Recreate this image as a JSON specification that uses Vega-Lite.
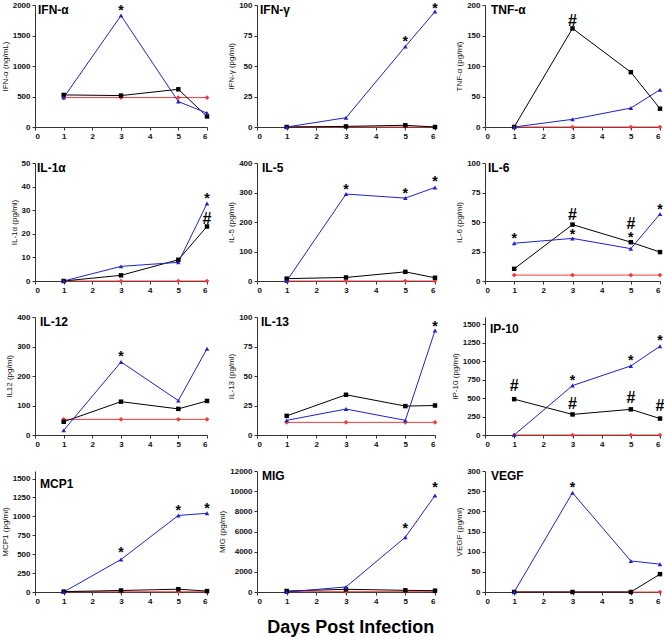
{
  "$schema": "https://vega.github.io/schema/vega-lite/v6.json",
  "padding": {"left": 1, "top": 1, "right": 0, "bottom": 0},
  "datasets": {
    "d": [
      {"c":"IFN-α","s":"C","d":1,"v":482},{"c":"IFN-α","s":"C","d":3,"v":482},{"c":"IFN-α","s":"C","d":5,"v":482},{"c":"IFN-α","s":"C","d":6,"v":482},
      {"c":"IFN-α","s":"A","d":1,"v":526},{"c":"IFN-α","s":"A","d":3,"v":515},{"c":"IFN-α","s":"A","d":5,"v":618},{"c":"IFN-α","s":"A","d":6,"v":173},
      {"c":"IFN-α","s":"B","d":1,"v":482},{"c":"IFN-α","s":"B","d":3,"v":1827},{"c":"IFN-α","s":"B","d":5,"v":417},{"c":"IFN-α","s":"B","d":6,"v":228},
      {"c":"IFN-γ","s":"C","d":1,"v":0},{"c":"IFN-γ","s":"C","d":3,"v":0},{"c":"IFN-γ","s":"C","d":5,"v":0},{"c":"IFN-γ","s":"C","d":6,"v":0},
      {"c":"IFN-γ","s":"A","d":1,"v":0},{"c":"IFN-γ","s":"A","d":3,"v":0.5},{"c":"IFN-γ","s":"A","d":5,"v":1.4},{"c":"IFN-γ","s":"A","d":6,"v":0},
      {"c":"IFN-γ","s":"B","d":1,"v":0},{"c":"IFN-γ","s":"B","d":3,"v":7.6},{"c":"IFN-γ","s":"B","d":5,"v":66},{"c":"IFN-γ","s":"B","d":6,"v":94.6},
      {"c":"TNF-α","s":"C","d":1,"v":0},{"c":"TNF-α","s":"C","d":3,"v":0},{"c":"TNF-α","s":"C","d":5,"v":0},{"c":"TNF-α","s":"C","d":6,"v":0},
      {"c":"TNF-α","s":"A","d":1,"v":0},{"c":"TNF-α","s":"A","d":3,"v":161.6},{"c":"TNF-α","s":"A","d":5,"v":89.9},{"c":"TNF-α","s":"A","d":6,"v":30},
      {"c":"TNF-α","s":"B","d":1,"v":0},{"c":"TNF-α","s":"B","d":3,"v":12.6},{"c":"TNF-α","s":"B","d":5,"v":31},{"c":"TNF-α","s":"B","d":6,"v":61},
      {"c":"IL-1α","s":"C","d":1,"v":0},{"c":"IL-1α","s":"C","d":3,"v":0},{"c":"IL-1α","s":"C","d":5,"v":0},{"c":"IL-1α","s":"C","d":6,"v":0},
      {"c":"IL-1α","s":"A","d":1,"v":0},{"c":"IL-1α","s":"A","d":3,"v":2.4},{"c":"IL-1α","s":"A","d":5,"v":9},{"c":"IL-1α","s":"A","d":6,"v":23.1},
      {"c":"IL-1α","s":"B","d":1,"v":0},{"c":"IL-1α","s":"B","d":3,"v":6.2},{"c":"IL-1α","s":"B","d":5,"v":7.9},{"c":"IL-1α","s":"B","d":6,"v":32.8},
      {"c":"IL-5","s":"C","d":1,"v":0},{"c":"IL-5","s":"C","d":3,"v":0},{"c":"IL-5","s":"C","d":5,"v":0},{"c":"IL-5","s":"C","d":6,"v":0},
      {"c":"IL-5","s":"A","d":1,"v":8},{"c":"IL-5","s":"A","d":3,"v":12},{"c":"IL-5","s":"A","d":5,"v":31},{"c":"IL-5","s":"A","d":6,"v":11},
      {"c":"IL-5","s":"B","d":1,"v":0},{"c":"IL-5","s":"B","d":3,"v":294.7},{"c":"IL-5","s":"B","d":5,"v":281},{"c":"IL-5","s":"B","d":6,"v":317},
      {"c":"IL-6","s":"C","d":1,"v":5},{"c":"IL-6","s":"C","d":3,"v":5},{"c":"IL-6","s":"C","d":5,"v":5},{"c":"IL-6","s":"C","d":6,"v":5},
      {"c":"IL-6","s":"A","d":1,"v":10.3},{"c":"IL-6","s":"A","d":3,"v":47.8},{"c":"IL-6","s":"A","d":5,"v":32.9},{"c":"IL-6","s":"A","d":6,"v":24.5},
      {"c":"IL-6","s":"B","d":1,"v":32},{"c":"IL-6","s":"B","d":3,"v":36.1},{"c":"IL-6","s":"B","d":5,"v":27.4},{"c":"IL-6","s":"B","d":6,"v":56.8},
      {"c":"IL-12","s":"C","d":1,"v":53},{"c":"IL-12","s":"C","d":3,"v":53},{"c":"IL-12","s":"C","d":5,"v":53},{"c":"IL-12","s":"C","d":6,"v":53},
      {"c":"IL-12","s":"A","d":1,"v":44.8},{"c":"IL-12","s":"A","d":3,"v":113},{"c":"IL-12","s":"A","d":5,"v":88.5},{"c":"IL-12","s":"A","d":6,"v":115.4},
      {"c":"IL-12","s":"B","d":1,"v":15.7},{"c":"IL-12","s":"B","d":3,"v":247.6},{"c":"IL-12","s":"B","d":5,"v":116.5},{"c":"IL-12","s":"B","d":6,"v":292.4},
      {"c":"IL-13","s":"C","d":1,"v":10.7},{"c":"IL-13","s":"C","d":3,"v":10.7},{"c":"IL-13","s":"C","d":5,"v":10.7},{"c":"IL-13","s":"C","d":6,"v":10.7},
      {"c":"IL-13","s":"A","d":1,"v":16.2},{"c":"IL-13","s":"A","d":3,"v":34.1},{"c":"IL-13","s":"A","d":5,"v":24.5},{"c":"IL-13","s":"A","d":6,"v":25},
      {"c":"IL-13","s":"B","d":1,"v":12.4},{"c":"IL-13","s":"B","d":3,"v":22},{"c":"IL-13","s":"B","d":5,"v":12.4},{"c":"IL-13","s":"B","d":6,"v":88.5},
      {"c":"IP-10","s":"C","d":1,"v":0},{"c":"IP-10","s":"C","d":3,"v":0},{"c":"IP-10","s":"C","d":5,"v":0},{"c":"IP-10","s":"C","d":6,"v":0},
      {"c":"IP-10","s":"A","d":1,"v":486},{"c":"IP-10","s":"A","d":3,"v":279},{"c":"IP-10","s":"A","d":5,"v":348},{"c":"IP-10","s":"A","d":6,"v":223},
      {"c":"IP-10","s":"B","d":1,"v":0},{"c":"IP-10","s":"B","d":3,"v":670},{"c":"IP-10","s":"B","d":5,"v":937},{"c":"IP-10","s":"B","d":6,"v":1203},
      {"c":"MCP1","s":"C","d":1,"v":3},{"c":"MCP1","s":"C","d":3,"v":3},{"c":"MCP1","s":"C","d":5,"v":3},{"c":"MCP1","s":"C","d":6,"v":3},
      {"c":"MCP1","s":"A","d":1,"v":5},{"c":"MCP1","s":"A","d":3,"v":20},{"c":"MCP1","s":"A","d":5,"v":37},{"c":"MCP1","s":"A","d":6,"v":12},
      {"c":"MCP1","s":"B","d":1,"v":0},{"c":"MCP1","s":"B","d":3,"v":430},{"c":"MCP1","s":"B","d":5,"v":1012},{"c":"MCP1","s":"B","d":6,"v":1041},
      {"c":"MIG","s":"C","d":1,"v":30},{"c":"MIG","s":"C","d":3,"v":30},{"c":"MIG","s":"C","d":5,"v":30},{"c":"MIG","s":"C","d":6,"v":30},
      {"c":"MIG","s":"A","d":1,"v":100},{"c":"MIG","s":"A","d":3,"v":267},{"c":"MIG","s":"A","d":5,"v":167},{"c":"MIG","s":"A","d":6,"v":133},
      {"c":"MIG","s":"B","d":1,"v":0},{"c":"MIG","s":"B","d":3,"v":500},{"c":"MIG","s":"B","d":5,"v":5433},{"c":"MIG","s":"B","d":6,"v":9567},
      {"c":"VEGF","s":"C","d":1,"v":0},{"c":"VEGF","s":"C","d":3,"v":0},{"c":"VEGF","s":"C","d":5,"v":0},{"c":"VEGF","s":"C","d":6,"v":0},
      {"c":"VEGF","s":"A","d":1,"v":0},{"c":"VEGF","s":"A","d":3,"v":0},{"c":"VEGF","s":"A","d":5,"v":0},{"c":"VEGF","s":"A","d":6,"v":44.3},
      {"c":"VEGF","s":"B","d":1,"v":0},{"c":"VEGF","s":"B","d":3,"v":246},{"c":"VEGF","s":"B","d":5,"v":77},{"c":"VEGF","s":"B","d":6,"v":69}
    ],
    "a": [
      {"c":"IFN-α","t":"*","d":3,"v":1962},
      {"c":"IFN-γ","t":"*","d":5,"v":73},{"c":"IFN-γ","t":"*","d":6,"v":100},
      {"c":"TNF-α","t":"#","d":3,"v":175},
      {"c":"IL-1α","t":"*","d":6,"v":36.4},{"c":"IL-1α","t":"#","d":6,"v":26.7},
      {"c":"IL-5","t":"*","d":3,"v":321.6},{"c":"IL-5","t":"*","d":5,"v":308},{"c":"IL-5","t":"*","d":6,"v":348},
      {"c":"IL-6","t":"*","d":1,"v":38.9},{"c":"IL-6","t":"#","d":3,"v":56.5},{"c":"IL-6","t":"*","d":3,"v":42.4},{"c":"IL-6","t":"#","d":5,"v":49},{"c":"IL-6","t":"*","d":5,"v":39.5},{"c":"IL-6","t":"*","d":6,"v":63.3},
      {"c":"IL-12","t":"*","d":3,"v":279},
      {"c":"IL-13","t":"*","d":6,"v":95.3},
      {"c":"IP-10","t":"#","d":1,"v":675},{"c":"IP-10","t":"#","d":3,"v":430},{"c":"IP-10","t":"#","d":5,"v":516},{"c":"IP-10","t":"#","d":6,"v":413},{"c":"IP-10","t":"*","d":3,"v":782},{"c":"IP-10","t":"*","d":5,"v":1061},{"c":"IP-10","t":"*","d":6,"v":1332},
      {"c":"MCP1","t":"*","d":3,"v":570},{"c":"MCP1","t":"*","d":5,"v":1120},{"c":"MCP1","t":"*","d":6,"v":1149},
      {"c":"MIG","t":"*","d":5,"v":6667},{"c":"MIG","t":"*","d":6,"v":10667},
      {"c":"VEGF","t":"*","d":3,"v":267}
    ]
  },
  "title": {"text": "Days Post Infection", "orient": "bottom", "anchor": "middle", "frame": "bounds", "fontSize": 18, "fontWeight": "bold", "offset": 14, "dx": 18},
  "columns": 3,
  "bounds": "flush",
  "spacing": {"row": 36, "column": 50},
  "concat": [
    {"width":172,"height":122,"layer":[
      {"encoding":{"x":{"field":"d","type":"quantitative","scale":{"domain":[0,6]},"axis":{"values":[0,1,2,3,4,5,6],"title":null}},
        "y":{"field":"v","type":"quantitative","scale":{"domain":[0,2000]},"axis":{"values":[0,500,1000,1500,2000],"title":"IFN-α (ng/mL)"}}},
       "layer":[
        {"data":{"name":"d"},"transform":[{"filter":{"field":"c","equal":"IFN-α"}}],"mark":{"type":"line"},"encoding":{"color":{"field":"s","type":"nominal","scale":{"domain":["A","B","C"]}},"strokeWidth":{"field":"s","type":"ordinal","scale":{"domain":["A","B","C"],"range":[1,1,1.8]}}}},
        {"data":{"name":"d"},"transform":[{"filter":{"field":"c","equal":"IFN-α"}}],"mark":{"type":"point","filled":true,"opacity":1},"encoding":{"color":{"field":"s","type":"nominal"},"shape":{"field":"s","type":"nominal","scale":{"domain":["A","B","C"]}},"size":{"field":"s","type":"ordinal","scale":{"domain":["A","B","C"],"range":[20,22,10]}}}},
        {"data":{"name":"a"},"transform":[{"filter":"datum.c === 'IFN-α' && datum.t === '*'"}],"mark":{"type":"text","fontSize":14,"fontWeight":"bold","baseline":"alphabetic","dy":8},"encoding":{"text":{"field":"t"}}},
        {"data":{"name":"a"},"transform":[{"filter":"datum.c === 'IFN-α' && datum.t === '#'"}],"mark":{"type":"text","fontSize":16,"fontWeight":"bold","baseline":"alphabetic","dy":6},"encoding":{"text":{"field":"t"}}}
       ]},
      {"data":{"values":[{"n":"IFN-α"}]},"mark":{"type":"text","fontSize":12,"fontWeight":"bold","align":"left","baseline":"top","dx":3},"encoding":{"x":{"datum":0,"type":"quantitative","axis":{"values":[0,1,2,3,4,5,6],"title":null}},"y":{"datum":2000,"type":"quantitative","axis":{"values":[0,500,1000,1500,2000],"title":"IFN-α (ng/mL)"}},"text":{"field":"n"}}}
    ]},
    {"width":178,"height":122,"layer":[
      {"encoding":{"x":{"field":"d","type":"quantitative","scale":{"domain":[0,6]},"axis":{"values":[0,1,2,3,4,5,6],"title":null}},
        "y":{"field":"v","type":"quantitative","scale":{"domain":[0,100]},"axis":{"values":[0,25,50,75,100],"title":"IFN-γ (pg/ml)"}}},
       "layer":[
        {"data":{"name":"d"},"transform":[{"filter":{"field":"c","equal":"IFN-γ"}}],"mark":{"type":"line"},"encoding":{"color":{"field":"s","type":"nominal","scale":{"domain":["A","B","C"]}},"strokeWidth":{"field":"s","type":"ordinal","scale":{"domain":["A","B","C"],"range":[1,1,1.8]}}}},
        {"data":{"name":"d"},"transform":[{"filter":{"field":"c","equal":"IFN-γ"}}],"mark":{"type":"point","filled":true,"opacity":1},"encoding":{"color":{"field":"s","type":"nominal"},"shape":{"field":"s","type":"nominal","scale":{"domain":["A","B","C"]}},"size":{"field":"s","type":"ordinal","scale":{"domain":["A","B","C"],"range":[20,22,10]}}}},
        {"data":{"name":"a"},"transform":[{"filter":"datum.c === 'IFN-γ' && datum.t === '*'"}],"mark":{"type":"text","fontSize":14,"fontWeight":"bold","baseline":"alphabetic","dy":8},"encoding":{"text":{"field":"t"}}},
        {"data":{"name":"a"},"transform":[{"filter":"datum.c === 'IFN-γ' && datum.t === '#'"}],"mark":{"type":"text","fontSize":16,"fontWeight":"bold","baseline":"alphabetic","dy":6},"encoding":{"text":{"field":"t"}}}
       ]},
      {"data":{"values":[{"n":"IFN-γ"}]},"mark":{"type":"text","fontSize":12,"fontWeight":"bold","align":"left","baseline":"top","dx":3},"encoding":{"x":{"datum":0,"type":"quantitative","axis":{"values":[0,1,2,3,4,5,6],"title":null}},"y":{"datum":100,"type":"quantitative","axis":{"values":[0,25,50,75,100],"title":"IFN-γ (pg/ml)"}},"text":{"field":"n"}}}
    ]},
    {"width":175,"height":122,"layer":[
      {"encoding":{"x":{"field":"d","type":"quantitative","scale":{"domain":[0,6]},"axis":{"values":[0,1,2,3,4,5,6],"title":null}},
        "y":{"field":"v","type":"quantitative","scale":{"domain":[0,200]},"axis":{"values":[0,50,100,150,200],"title":"TNF-α (pg/ml)"}}},
       "layer":[
        {"data":{"name":"d"},"transform":[{"filter":{"field":"c","equal":"TNF-α"}}],"mark":{"type":"line"},"encoding":{"color":{"field":"s","type":"nominal","scale":{"domain":["A","B","C"]}},"strokeWidth":{"field":"s","type":"ordinal","scale":{"domain":["A","B","C"],"range":[1,1,1.8]}}}},
        {"data":{"name":"d"},"transform":[{"filter":{"field":"c","equal":"TNF-α"}}],"mark":{"type":"point","filled":true,"opacity":1},"encoding":{"color":{"field":"s","type":"nominal"},"shape":{"field":"s","type":"nominal","scale":{"domain":["A","B","C"]}},"size":{"field":"s","type":"ordinal","scale":{"domain":["A","B","C"],"range":[20,22,10]}}}},
        {"data":{"name":"a"},"transform":[{"filter":"datum.c === 'TNF-α' && datum.t === '*'"}],"mark":{"type":"text","fontSize":14,"fontWeight":"bold","baseline":"alphabetic","dy":8},"encoding":{"text":{"field":"t"}}},
        {"data":{"name":"a"},"transform":[{"filter":"datum.c === 'TNF-α' && datum.t === '#'"}],"mark":{"type":"text","fontSize":16,"fontWeight":"bold","baseline":"alphabetic","dy":6},"encoding":{"text":{"field":"t"}}}
       ]},
      {"data":{"values":[{"n":"TNF-α"}]},"mark":{"type":"text","fontSize":12,"fontWeight":"bold","align":"left","baseline":"top","dx":6},"encoding":{"x":{"datum":0,"type":"quantitative","axis":{"values":[0,1,2,3,4,5,6],"title":null}},"y":{"datum":200,"type":"quantitative","axis":{"values":[0,50,100,150,200],"title":"TNF-α (pg/ml)"}},"text":{"field":"n"}}}
    ]},
    {"width":172,"height":118,"layer":[
      {"encoding":{"x":{"field":"d","type":"quantitative","scale":{"domain":[0,6]},"axis":{"values":[0,1,2,3,4,5,6],"title":null}},
        "y":{"field":"v","type":"quantitative","scale":{"domain":[0,50]},"axis":{"values":[0,10,20,30,40,50],"title":"IL-1α (pg/ml)"}}},
       "layer":[
        {"data":{"name":"d"},"transform":[{"filter":{"field":"c","equal":"IL-1α"}}],"mark":{"type":"line"},"encoding":{"color":{"field":"s","type":"nominal","scale":{"domain":["A","B","C"]}},"strokeWidth":{"field":"s","type":"ordinal","scale":{"domain":["A","B","C"],"range":[1,1,1.8]}}}},
        {"data":{"name":"d"},"transform":[{"filter":{"field":"c","equal":"IL-1α"}}],"mark":{"type":"point","filled":true,"opacity":1},"encoding":{"color":{"field":"s","type":"nominal"},"shape":{"field":"s","type":"nominal","scale":{"domain":["A","B","C"]}},"size":{"field":"s","type":"ordinal","scale":{"domain":["A","B","C"],"range":[20,22,10]}}}},
        {"data":{"name":"a"},"transform":[{"filter":"datum.c === 'IL-1α' && datum.t === '*'"}],"mark":{"type":"text","fontSize":14,"fontWeight":"bold","baseline":"alphabetic","dy":8},"encoding":{"text":{"field":"t"}}},
        {"data":{"name":"a"},"transform":[{"filter":"datum.c === 'IL-1α' && datum.t === '#'"}],"mark":{"type":"text","fontSize":16,"fontWeight":"bold","baseline":"alphabetic","dy":6},"encoding":{"text":{"field":"t"}}}
       ]},
      {"data":{"values":[{"n":"IL-1α"}]},"mark":{"type":"text","fontSize":12,"fontWeight":"bold","align":"left","baseline":"top","dx":2},"encoding":{"x":{"datum":0,"type":"quantitative","axis":{"values":[0,1,2,3,4,5,6],"title":null}},"y":{"datum":50,"type":"quantitative","axis":{"values":[0,10,20,30,40,50],"title":"IL-1α (pg/ml)"}},"text":{"field":"n"}}}
    ]},
    {"width":178,"height":118,"layer":[
      {"encoding":{"x":{"field":"d","type":"quantitative","scale":{"domain":[0,6]},"axis":{"values":[0,1,2,3,4,5,6],"title":null}},
        "y":{"field":"v","type":"quantitative","scale":{"domain":[0,400]},"axis":{"values":[0,100,200,300,400],"title":"IL-5 (pg/ml)"}}},
       "layer":[
        {"data":{"name":"d"},"transform":[{"filter":{"field":"c","equal":"IL-5"}}],"mark":{"type":"line"},"encoding":{"color":{"field":"s","type":"nominal","scale":{"domain":["A","B","C"]}},"strokeWidth":{"field":"s","type":"ordinal","scale":{"domain":["A","B","C"],"range":[1,1,1.8]}}}},
        {"data":{"name":"d"},"transform":[{"filter":{"field":"c","equal":"IL-5"}}],"mark":{"type":"point","filled":true,"opacity":1},"encoding":{"color":{"field":"s","type":"nominal"},"shape":{"field":"s","type":"nominal","scale":{"domain":["A","B","C"]}},"size":{"field":"s","type":"ordinal","scale":{"domain":["A","B","C"],"range":[20,22,10]}}}},
        {"data":{"name":"a"},"transform":[{"filter":"datum.c === 'IL-5' && datum.t === '*'"}],"mark":{"type":"text","fontSize":14,"fontWeight":"bold","baseline":"alphabetic","dy":8},"encoding":{"text":{"field":"t"}}},
        {"data":{"name":"a"},"transform":[{"filter":"datum.c === 'IL-5' && datum.t === '#'"}],"mark":{"type":"text","fontSize":16,"fontWeight":"bold","baseline":"alphabetic","dy":6},"encoding":{"text":{"field":"t"}}}
       ]},
      {"data":{"values":[{"n":"IL-5"}]},"mark":{"type":"text","fontSize":12,"fontWeight":"bold","align":"left","baseline":"top","dx":5},"encoding":{"x":{"datum":0,"type":"quantitative","axis":{"values":[0,1,2,3,4,5,6],"title":null}},"y":{"datum":400,"type":"quantitative","axis":{"values":[0,100,200,300,400],"title":"IL-5 (pg/ml)"}},"text":{"field":"n"}}}
    ]},
    {"width":175,"height":118,"layer":[
      {"encoding":{"x":{"field":"d","type":"quantitative","scale":{"domain":[0,6]},"axis":{"values":[0,1,2,3,4,5,6],"title":null}},
        "y":{"field":"v","type":"quantitative","scale":{"domain":[0,100]},"axis":{"values":[0,25,50,75,100],"title":"IL-6 (pg/ml)"}}},
       "layer":[
        {"data":{"name":"d"},"transform":[{"filter":{"field":"c","equal":"IL-6"}}],"mark":{"type":"line"},"encoding":{"color":{"field":"s","type":"nominal","scale":{"domain":["A","B","C"]}},"strokeWidth":{"field":"s","type":"ordinal","scale":{"domain":["A","B","C"],"range":[1,1,1.8]}}}},
        {"data":{"name":"d"},"transform":[{"filter":{"field":"c","equal":"IL-6"}}],"mark":{"type":"point","filled":true,"opacity":1},"encoding":{"color":{"field":"s","type":"nominal"},"shape":{"field":"s","type":"nominal","scale":{"domain":["A","B","C"]}},"size":{"field":"s","type":"ordinal","scale":{"domain":["A","B","C"],"range":[20,22,10]}}}},
        {"data":{"name":"a"},"transform":[{"filter":"datum.c === 'IL-6' && datum.t === '*'"}],"mark":{"type":"text","fontSize":14,"fontWeight":"bold","baseline":"alphabetic","dy":8},"encoding":{"text":{"field":"t"}}},
        {"data":{"name":"a"},"transform":[{"filter":"datum.c === 'IL-6' && datum.t === '#'"}],"mark":{"type":"text","fontSize":16,"fontWeight":"bold","baseline":"alphabetic","dy":6},"encoding":{"text":{"field":"t"}}}
       ]},
      {"data":{"values":[{"n":"IL-6"}]},"mark":{"type":"text","fontSize":12,"fontWeight":"bold","align":"left","baseline":"top","dx":3},"encoding":{"x":{"datum":0,"type":"quantitative","axis":{"values":[0,1,2,3,4,5,6],"title":null}},"y":{"datum":100,"type":"quantitative","axis":{"values":[0,25,50,75,100],"title":"IL-6 (pg/ml)"}},"text":{"field":"n"}}}
    ]},
    {"width":172,"height":118,"layer":[
      {"encoding":{"x":{"field":"d","type":"quantitative","scale":{"domain":[0,6]},"axis":{"values":[0,1,2,3,4,5,6],"title":null}},
        "y":{"field":"v","type":"quantitative","scale":{"domain":[0,400]},"axis":{"values":[0,100,200,300,400],"title":"IL12 (pg/ml)"}}},
       "layer":[
        {"data":{"name":"d"},"transform":[{"filter":{"field":"c","equal":"IL-12"}}],"mark":{"type":"line"},"encoding":{"color":{"field":"s","type":"nominal","scale":{"domain":["A","B","C"]}},"strokeWidth":{"field":"s","type":"ordinal","scale":{"domain":["A","B","C"],"range":[1,1,1.8]}}}},
        {"data":{"name":"d"},"transform":[{"filter":{"field":"c","equal":"IL-12"}}],"mark":{"type":"point","filled":true,"opacity":1},"encoding":{"color":{"field":"s","type":"nominal"},"shape":{"field":"s","type":"nominal","scale":{"domain":["A","B","C"]}},"size":{"field":"s","type":"ordinal","scale":{"domain":["A","B","C"],"range":[20,22,10]}}}},
        {"data":{"name":"a"},"transform":[{"filter":"datum.c === 'IL-12' && datum.t === '*'"}],"mark":{"type":"text","fontSize":14,"fontWeight":"bold","baseline":"alphabetic","dy":8},"encoding":{"text":{"field":"t"}}},
        {"data":{"name":"a"},"transform":[{"filter":"datum.c === 'IL-12' && datum.t === '#'"}],"mark":{"type":"text","fontSize":16,"fontWeight":"bold","baseline":"alphabetic","dy":6},"encoding":{"text":{"field":"t"}}}
       ]},
      {"data":{"values":[{"n":"IL-12"}]},"mark":{"type":"text","fontSize":12,"fontWeight":"bold","align":"left","baseline":"top","dx":5},"encoding":{"x":{"datum":0,"type":"quantitative","axis":{"values":[0,1,2,3,4,5,6],"title":null}},"y":{"datum":400,"type":"quantitative","axis":{"values":[0,100,200,300,400],"title":"IL12 (pg/ml)"}},"text":{"field":"n"}}}
    ]},
    {"width":178,"height":118,"layer":[
      {"encoding":{"x":{"field":"d","type":"quantitative","scale":{"domain":[0,6]},"axis":{"values":[0,1,2,3,4,5,6],"title":null}},
        "y":{"field":"v","type":"quantitative","scale":{"domain":[0,100]},"axis":{"values":[0,25,50,75,100],"title":"IL-13 (pg/ml)"}}},
       "layer":[
        {"data":{"name":"d"},"transform":[{"filter":{"field":"c","equal":"IL-13"}}],"mark":{"type":"line"},"encoding":{"color":{"field":"s","type":"nominal","scale":{"domain":["A","B","C"]}},"strokeWidth":{"field":"s","type":"ordinal","scale":{"domain":["A","B","C"],"range":[1,1,1.8]}}}},
        {"data":{"name":"d"},"transform":[{"filter":{"field":"c","equal":"IL-13"}}],"mark":{"type":"point","filled":true,"opacity":1},"encoding":{"color":{"field":"s","type":"nominal"},"shape":{"field":"s","type":"nominal","scale":{"domain":["A","B","C"]}},"size":{"field":"s","type":"ordinal","scale":{"domain":["A","B","C"],"range":[20,22,10]}}}},
        {"data":{"name":"a"},"transform":[{"filter":"datum.c === 'IL-13' && datum.t === '*'"}],"mark":{"type":"text","fontSize":14,"fontWeight":"bold","baseline":"alphabetic","dy":8},"encoding":{"text":{"field":"t"}}},
        {"data":{"name":"a"},"transform":[{"filter":"datum.c === 'IL-13' && datum.t === '#'"}],"mark":{"type":"text","fontSize":16,"fontWeight":"bold","baseline":"alphabetic","dy":6},"encoding":{"text":{"field":"t"}}}
       ]},
      {"data":{"values":[{"n":"IL-13"}]},"mark":{"type":"text","fontSize":12,"fontWeight":"bold","align":"left","baseline":"top","dx":4},"encoding":{"x":{"datum":0,"type":"quantitative","axis":{"values":[0,1,2,3,4,5,6],"title":null}},"y":{"datum":100,"type":"quantitative","axis":{"values":[0,25,50,75,100],"title":"IL-13 (pg/ml)"}},"text":{"field":"n"}}}
    ]},
    {"width":175,"height":118,"layer":[
      {"encoding":{"x":{"field":"d","type":"quantitative","scale":{"domain":[0,6]},"axis":{"values":[0,1,2,3,4,5,6],"title":null}},
        "y":{"field":"v","type":"quantitative","scale":{"domain":[0,1500]},"axis":{"values":[0,250,500,750,1000,1250,1500],"title":"IP-10 (pg/ml)"}}},
       "layer":[
        {"data":{"name":"d"},"transform":[{"filter":{"field":"c","equal":"IP-10"}}],"mark":{"type":"line"},"encoding":{"color":{"field":"s","type":"nominal","scale":{"domain":["A","B","C"]}},"strokeWidth":{"field":"s","type":"ordinal","scale":{"domain":["A","B","C"],"range":[1,1,1.8]}}}},
        {"data":{"name":"d"},"transform":[{"filter":{"field":"c","equal":"IP-10"}}],"mark":{"type":"point","filled":true,"opacity":1},"encoding":{"color":{"field":"s","type":"nominal"},"shape":{"field":"s","type":"nominal","scale":{"domain":["A","B","C"]}},"size":{"field":"s","type":"ordinal","scale":{"domain":["A","B","C"],"range":[20,22,10]}}}},
        {"data":{"name":"a"},"transform":[{"filter":"datum.c === 'IP-10' && datum.t === '*'"}],"mark":{"type":"text","fontSize":14,"fontWeight":"bold","baseline":"alphabetic","dy":8},"encoding":{"text":{"field":"t"}}},
        {"data":{"name":"a"},"transform":[{"filter":"datum.c === 'IP-10' && datum.t === '#'"}],"mark":{"type":"text","fontSize":16,"fontWeight":"bold","baseline":"alphabetic","dy":6},"encoding":{"text":{"field":"t"}}}
       ]},
      {"data":{"values":[{"n":"IP-10"}]},"mark":{"type":"text","fontSize":12,"fontWeight":"bold","align":"left","baseline":"top","dx":5},"encoding":{"x":{"datum":0,"type":"quantitative","axis":{"values":[0,1,2,3,4,5,6],"title":null}},"y":{"datum":1500,"type":"quantitative","axis":{"values":[0,250,500,750,1000,1250,1500],"title":"IP-10 (pg/ml)"}},"text":{"field":"n"}}}
    ]},
    {"width":172,"height":121,"layer":[
      {"encoding":{"x":{"field":"d","type":"quantitative","scale":{"domain":[0,6]},"axis":{"values":[0,1,2,3,4,5,6],"title":null}},
        "y":{"field":"v","type":"quantitative","scale":{"domain":[0,1500]},"axis":{"values":[0,250,500,750,1000,1250,1500],"title":"MCP1 (pg/ml)"}}},
       "layer":[
        {"data":{"name":"d"},"transform":[{"filter":{"field":"c","equal":"MCP1"}}],"mark":{"type":"line"},"encoding":{"color":{"field":"s","type":"nominal","scale":{"domain":["A","B","C"]}},"strokeWidth":{"field":"s","type":"ordinal","scale":{"domain":["A","B","C"],"range":[1,1,1.8]}}}},
        {"data":{"name":"d"},"transform":[{"filter":{"field":"c","equal":"MCP1"}}],"mark":{"type":"point","filled":true,"opacity":1},"encoding":{"color":{"field":"s","type":"nominal"},"shape":{"field":"s","type":"nominal","scale":{"domain":["A","B","C"]}},"size":{"field":"s","type":"ordinal","scale":{"domain":["A","B","C"],"range":[20,22,10]}}}},
        {"data":{"name":"a"},"transform":[{"filter":"datum.c === 'MCP1' && datum.t === '*'"}],"mark":{"type":"text","fontSize":14,"fontWeight":"bold","baseline":"alphabetic","dy":8},"encoding":{"text":{"field":"t"}}},
        {"data":{"name":"a"},"transform":[{"filter":"datum.c === 'MCP1' && datum.t === '#'"}],"mark":{"type":"text","fontSize":16,"fontWeight":"bold","baseline":"alphabetic","dy":6},"encoding":{"text":{"field":"t"}}}
       ]},
      {"data":{"values":[{"n":"MCP1"}]},"mark":{"type":"text","fontSize":12,"fontWeight":"bold","align":"left","baseline":"top","dx":5},"encoding":{"x":{"datum":0,"type":"quantitative","axis":{"values":[0,1,2,3,4,5,6],"title":null}},"y":{"datum":1500,"type":"quantitative","axis":{"values":[0,250,500,750,1000,1250,1500],"title":"MCP1 (pg/ml)"}},"text":{"field":"n"}}}
    ]},
    {"width":178,"height":121,"layer":[
      {"encoding":{"x":{"field":"d","type":"quantitative","scale":{"domain":[0,6]},"axis":{"values":[0,1,2,3,4,5,6],"title":null}},
        "y":{"field":"v","type":"quantitative","scale":{"domain":[0,12000]},"axis":{"values":[0,2000,4000,6000,8000,10000,12000],"title":"MIG (pg/ml)"}}},
       "layer":[
        {"data":{"name":"d"},"transform":[{"filter":{"field":"c","equal":"MIG"}}],"mark":{"type":"line"},"encoding":{"color":{"field":"s","type":"nominal","scale":{"domain":["A","B","C"]}},"strokeWidth":{"field":"s","type":"ordinal","scale":{"domain":["A","B","C"],"range":[1,1,1.8]}}}},
        {"data":{"name":"d"},"transform":[{"filter":{"field":"c","equal":"MIG"}}],"mark":{"type":"point","filled":true,"opacity":1},"encoding":{"color":{"field":"s","type":"nominal"},"shape":{"field":"s","type":"nominal","scale":{"domain":["A","B","C"]}},"size":{"field":"s","type":"ordinal","scale":{"domain":["A","B","C"],"range":[20,22,10]}}}},
        {"data":{"name":"a"},"transform":[{"filter":"datum.c === 'MIG' && datum.t === '*'"}],"mark":{"type":"text","fontSize":14,"fontWeight":"bold","baseline":"alphabetic","dy":8},"encoding":{"text":{"field":"t"}}},
        {"data":{"name":"a"},"transform":[{"filter":"datum.c === 'MIG' && datum.t === '#'"}],"mark":{"type":"text","fontSize":16,"fontWeight":"bold","baseline":"alphabetic","dy":6},"encoding":{"text":{"field":"t"}}}
       ]},
      {"data":{"values":[{"n":"MIG"}]},"mark":{"type":"text","fontSize":12,"fontWeight":"bold","align":"left","baseline":"top","dx":5},"encoding":{"x":{"datum":0,"type":"quantitative","axis":{"values":[0,1,2,3,4,5,6],"title":null}},"y":{"datum":12000,"type":"quantitative","axis":{"values":[0,2000,4000,6000,8000,10000,12000],"title":"MIG (pg/ml)"}},"text":{"field":"n"}}}
    ]},
    {"width":175,"height":121,"layer":[
      {"encoding":{"x":{"field":"d","type":"quantitative","scale":{"domain":[0,6]},"axis":{"values":[0,1,2,3,4,5,6],"title":null}},
        "y":{"field":"v","type":"quantitative","scale":{"domain":[0,300]},"axis":{"values":[0,50,100,150,200,250,300],"title":"VEGF (pg/ml)"}}},
       "layer":[
        {"data":{"name":"d"},"transform":[{"filter":{"field":"c","equal":"VEGF"}}],"mark":{"type":"line"},"encoding":{"color":{"field":"s","type":"nominal","scale":{"domain":["A","B","C"]}},"strokeWidth":{"field":"s","type":"ordinal","scale":{"domain":["A","B","C"],"range":[1,1,1.8]}}}},
        {"data":{"name":"d"},"transform":[{"filter":{"field":"c","equal":"VEGF"}}],"mark":{"type":"point","filled":true,"opacity":1},"encoding":{"color":{"field":"s","type":"nominal"},"shape":{"field":"s","type":"nominal","scale":{"domain":["A","B","C"]}},"size":{"field":"s","type":"ordinal","scale":{"domain":["A","B","C"],"range":[20,22,10]}}}},
        {"data":{"name":"a"},"transform":[{"filter":"datum.c === 'VEGF' && datum.t === '*'"}],"mark":{"type":"text","fontSize":14,"fontWeight":"bold","baseline":"alphabetic","dy":8},"encoding":{"text":{"field":"t"}}},
        {"data":{"name":"a"},"transform":[{"filter":"datum.c === 'VEGF' && datum.t === '#'"}],"mark":{"type":"text","fontSize":16,"fontWeight":"bold","baseline":"alphabetic","dy":6},"encoding":{"text":{"field":"t"}}}
       ]},
      {"data":{"values":[{"n":"VEGF"}]},"mark":{"type":"text","fontSize":12,"fontWeight":"bold","align":"left","baseline":"top","dx":6},"encoding":{"x":{"datum":0,"type":"quantitative","axis":{"values":[0,1,2,3,4,5,6],"title":null}},"y":{"datum":300,"type":"quantitative","axis":{"values":[0,50,100,150,200,250,300],"title":"VEGF (pg/ml)"}},"text":{"field":"n"}}}
    ]}
  ],
  "config": {
    "font": "Liberation Sans",
    "numberFormat": "d",
    "view": {"stroke": null},
    "legend": {"disable": true},
    "text": {"color": "#000000"},
    "range": {"category": ["#000000", "#2222c4", "#ee3c3c"], "symbol": ["square", "triangle-up", "diamond"]},
    "axis": {"grid": false, "domainColor": "#333333", "tickColor": "#333333", "tickSize": 3, "labelFont": "Liberation Sans", "labelFontSize": 8, "labelFontWeight": "bold", "labelColor": "#111111", "labelPadding": 2, "titleFont": "Liberation Sans", "titleFontSize": 8, "titleFontWeight": "normal", "titleColor": "#111111", "titlePadding": 3},
    "title": {"font": "Liberation Sans", "color": "#000000"}
  }
}
